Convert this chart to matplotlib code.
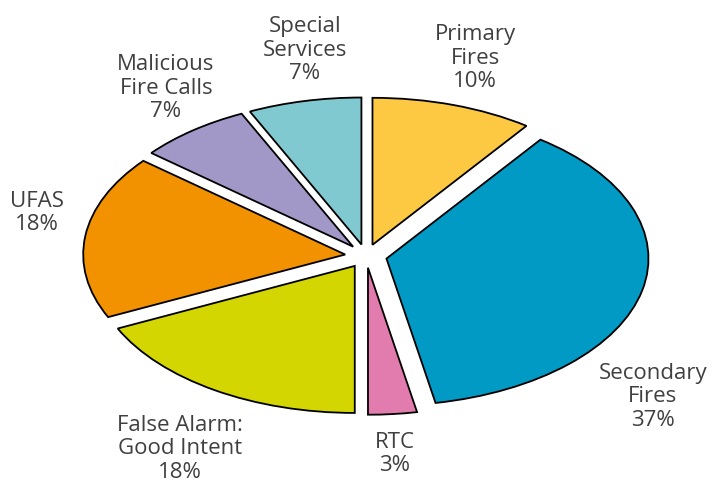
import matplotlib.pyplot as plt

# incident categories, clockwise from the top
categories = ['Primary\nFires', 'Secondary\nFires', 'RTC', 'False Alarm:\nGood Intent',
              'UFAS', 'Malicious\nFire Calls', 'Special\nServices']
shares = [10, 37, 3, 18, 18, 7, 7]
colours = ['#FDC842', '#009AC4', '#E27CAE', '#D3D600', '#F29200', '#A198C7', '#80C9D0']

# label centres in pixels (x from left, y from top)
label_pos = [(475, 58), (653, 397), (395, 454), (180, 449),
             (37, 213), (166, 88), (305, 50)]

W, H = 712, 485
fig = plt.figure(figsize=(W / 100, H / 100), dpi=100)
ax = fig.add_axes([0, 0, 1, 1])

ax.pie(shares, explode=[0.08] * len(shares), colors=colours,
       startangle=90, counterclock=False,
       wedgeprops=dict(edgecolor='black', linewidth=1.3))

# stretch the pie into an ellipse
cx, cy = 366, 257
rx, ry = 262, 147
ax.set_aspect('auto')
ax.set_xlim(-cx / rx, (W - cx) / rx)
ax.set_ylim(-(H - cy) / ry, cy / ry)
ax.axis('off')

for name, val, (px, py) in zip(categories, shares, label_pos):
    fig.text(px / W, 1 - py / H, '%s\n%d%%' % (name, val),
             ha='center', va='center', fontsize=16, color='#404040',
             family='Open Sans', linespacing=1.17)

fig.savefig('out.png', dpi=100)
